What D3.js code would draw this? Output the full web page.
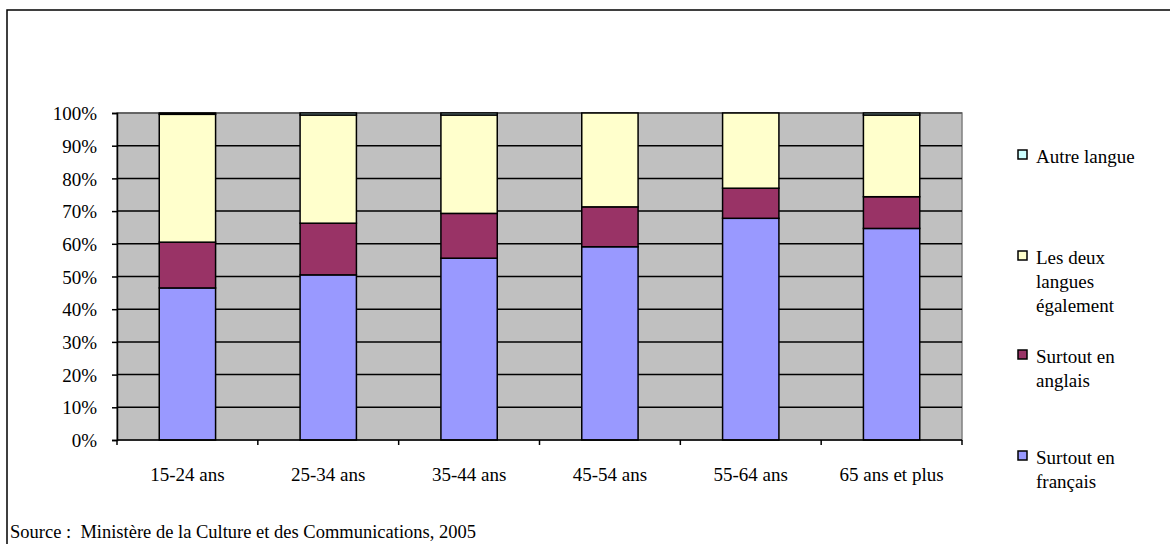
<!DOCTYPE html>
<html>
<head>
<meta charset="utf-8">
<script src="https://cdn.jsdelivr.net/npm/d3@7"></script>
<style>
  body { margin: 0; background: #fff; }
  svg text { font-family: "Liberation Serif", "DejaVu Serif", serif !important; font-size: 19px; fill: #000; }
</style>
</head>
<body>
<div id="chart"></div>
<script>
// categories and values (percent)
const categories = ['15-24 ans', '25-34 ans', '35-44 ans', '45-54 ans', '55-64 ans', '65 ans et plus']
const francais = [46.5, 50.5, 55.6, 59.1, 67.8, 64.7]
const anglais = [14.0, 15.8, 13.7, 12.2, 9.2, 9.7]
const deux = [39.1, 33.1, 30.1, 28.7, 23.0, 25.0]
const autre = [0.4, 0.6, 0.6, 0.0, 0.0, 0.6]
const yTicks = [0, 10, 20, 30, 40, 50, 60, 70, 80, 90, 100]

const keys = ['francais', 'anglais', 'deux', 'autre']
const colors = { francais: '#9999FF', anglais: '#993366', deux: '#FFFFCC', autre: '#CCFFFF' }
const legendItems = [
    { key: 'autre', lines: ['Autre langue'] },
    { key: 'deux', lines: ['Les deux', 'langues', 'également'] },
    { key: 'anglais', lines: ['Surtout en', 'anglais'] },
    { key: 'francais', lines: ['Surtout en', 'français'] }
]

const rows = categories.map((c, i) => ({ cat: c, francais: francais[i], anglais: anglais[i], deux: deux[i], autre: autre[i] }))

const width = 1170, height = 544
const svg = d3.select('#chart').append('svg')
    .attr('width', width)
    .attr('height', height)
    .attr('font-family', '"Liberation Serif", serif')

// outer frame (runs off the right and bottom edges)
svg.append('rect')
    .attr('x', 7).attr('y', 10)
    .attr('width', 1200).attr('height', 600)
    .attr('fill', 'none').attr('stroke', '#000').attr('stroke-width', 1.5)

const plot = { left: 117, right: 962, top: 113, bottom: 440 }

const x = d3.scaleBand()
    .domain(categories)
    .range([plot.left, plot.right])
    .paddingInner(0.6)
    .paddingOuter(0.3)

const y = d3.scaleLinear()
    .domain([0, 100])
    .range([plot.bottom, plot.top])

// plot background
svg.append('rect')
    .attr('x', plot.left).attr('y', plot.top)
    .attr('width', plot.right - plot.left).attr('height', plot.bottom - plot.top)
    .attr('fill', '#C0C0C0').attr('stroke', '#808080').attr('stroke-width', 1.5)

// gridlines
svg.append('g')
    .selectAll('line')
    .data(yTicks.filter(t => t > 0))
    .enter()
    .append('line')
        .attr('x1', plot.left).attr('x2', plot.right)
        .attr('y1', d => y(d)).attr('y2', d => y(d))
        .attr('stroke', d => d == 100 ? '#555' : '#000')
        .attr('stroke-width', 1.5)

// stacked bars
const series = d3.stack().keys(keys)(rows)
svg.append('g')
    .selectAll('g')
    .data(series)
    .enter()
    .append('g')
        .attr('fill', d => colors[d.key])
    .selectAll('rect')
    .data(d => d)
    .enter()
    .append('rect')
        .attr('x', d => x(d.data.cat))
        .attr('width', x.bandwidth())
        .attr('y', d => y(d[1]))
        .attr('height', d => y(d[0]) - y(d[1]))
        .attr('stroke', '#000')
        .attr('stroke-width', 1.5)

// y axis
const yAxis = svg.append('g')
    .attr('transform', 'translate(' + plot.left + ',0)')
    .call(d3.axisLeft(y).tickValues(yTicks).tickFormat(d => d + '%').tickSize(5).tickPadding(15))
yAxis.attr('font-family', null).attr('font-size', null)
yAxis.select('.domain').attr('stroke', '#000').attr('stroke-width', 1.5)
yAxis.selectAll('.tick line').attr('stroke', '#000').attr('stroke-width', 1.5)
yAxis.selectAll('text').attr('fill', '#000').attr('dy', '0.35em')

// x axis: ticks between categories
const boundaries = d3.range(categories.length + 1).map(i => plot.left + i * x.step())
const xAxis = svg.append('g')
xAxis.append('line')
    .attr('x1', plot.left).attr('x2', plot.right)
    .attr('y1', plot.bottom).attr('y2', plot.bottom)
    .attr('stroke', '#000').attr('stroke-width', 1.5)
xAxis.selectAll('.xt')
    .data(boundaries)
    .enter()
    .append('line')
        .attr('class', 'xt')
        .attr('x1', d => d).attr('x2', d => d)
        .attr('y1', plot.bottom).attr('y2', plot.bottom + 5)
        .attr('stroke', '#000').attr('stroke-width', 1.5)
xAxis.selectAll('text')
    .data(categories)
    .enter()
    .append('text')
        .attr('x', d => x(d) + x.bandwidth() / 2)
        .attr('y', 481)
        .attr('text-anchor', 'middle')
        .text(d => d)

// legend
const legendTops = [150, 251, 350, 451]
const legend = svg.append('g')
    .selectAll('g')
    .data(legendItems)
    .enter()
    .append('g')
        .attr('transform', (d, i) => 'translate(1018,' + legendTops[i] + ')')
legend.append('rect')
    .attr('width', 9).attr('height', 9)
    .attr('fill', d => colors[d.key])
    .attr('stroke', '#000').attr('stroke-width', 1.5)
legend.append('text')
    .attr('x', 18)
    .attr('y', 13)
    .selectAll('tspan')
    .data(d => d.lines)
    .enter()
    .append('tspan')
        .attr('x', 18)
        .attr('dy', (d, i) => i == 0 ? 0 : 24)
        .text(d => d)

// source note
svg.append('text')
    .attr('x', 10)
    .attr('y', 538)
    .style('font-size', '18.5px')
    .attr('xml:space', 'preserve')
    .text('Source :  Ministère de la Culture et des Communications, 2005')
</script>
</body>
</html>
